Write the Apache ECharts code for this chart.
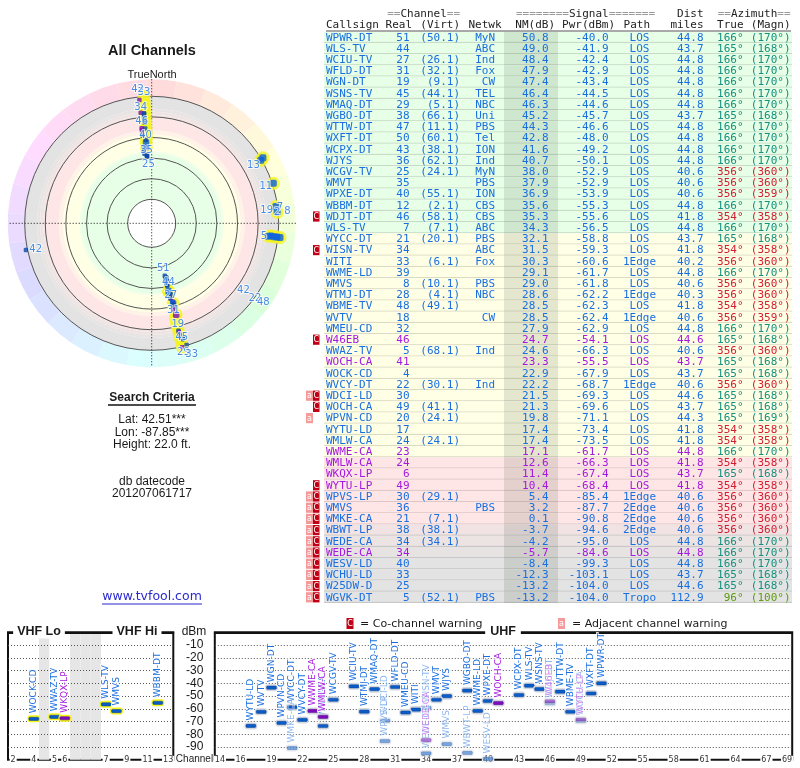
<!DOCTYPE html>
<html><head><meta charset="utf-8">
<style>html,body{margin:0;padding:0;background:#fff}#c{width:800px;height:768px}</style>
<script src="https://cdn.jsdelivr.net/npm/echarts@6/dist/echarts.min.js"></script>
</head><body><div id="c"></div>
<script>
// ---------- table data (one entry per row) ----------
const callsigns=['WPWR-DT','WLS-TV','WCIU-TV','WFLD-DT','WGN-DT','WSNS-TV','WMAQ-DT','WGBO-DT','WTTW-DT','WXFT-DT','WCPX-DT','WJYS','WCGV-TV','WMVT','WPXE-DT','WBBM-DT','WDJT-DT','WLS-TV','WYCC-DT','WISN-TV','WITI','WWME-LD','WMVS','WTMJ-DT','WBME-TV','WVTV','WMEU-CD','W46EB','WWAZ-TV','WOCH-CA','WOCK-CD','WVCY-DT','WDCI-LD','WOCH-CA','WPVN-CD','WYTU-LD','WMLW-CA','WWME-CA','WMLW-CA','WKQX-LP','WYTU-LP','WPVS-LP','WMVS','WMKE-CA','WBWT-LP','WEDE-CA','WEDE-CA','WESV-LD','WCHU-LD','W25DW-D','WGVK-DT'];
const realCh=[51,44,27,31,19,45,29,38,47,50,43,36,25,35,40,12,46,7,21,34,33,39,8,28,48,18,32,46,5,41,4,22,30,49,20,17,24,23,24,6,49,30,36,21,38,34,34,40,33,25,5];
const virtCh=['(50.1)','','(26.1)','(32.1)','(9.1)','(44.1)','(5.1)','(66.1)','(11.1)','(60.1)','(38.1)','(62.1)','(24.1)','','(55.1)','(2.1)','(58.1)','(7.1)','(20.1)','','(6.1)','','(10.1)','(4.1)','(49.1)','','','','(68.1)','','','(30.1)','','(41.1)','(24.1)','','(24.1)','','','','','(29.1)','','(7.1)','(38.1)','(34.1)','','','','','(52.1)'];
const networks=['MyN','ABC','Ind','Fox','CW','TEL','NBC','Uni','PBS','Tel','ION','Ind','MyN','PBS','ION','CBS','CBS','ABC','PBS','ABC','Fox','','PBS','NBC','','CW','','','Ind','','','Ind','','','','','','','','','','','PBS','','','','','','','','PBS'];
const nmDb=[50.8,49.0,48.4,47.9,47.4,46.4,46.3,45.2,44.3,42.8,41.6,40.7,38.0,37.9,36.9,35.6,35.3,34.3,32.1,31.5,30.3,29.1,29.0,28.6,28.5,28.5,27.9,24.7,24.6,23.3,22.9,22.2,21.5,21.3,19.8,17.4,17.4,17.1,12.6,11.4,10.4,5.4,3.2,0.1,-3.7,-4.2,-5.7,-8.4,-12.3,-13.2,-13.2];
const pwrDbm=[-40.0,-41.9,-42.4,-42.9,-43.4,-44.5,-44.6,-45.7,-46.6,-48.0,-49.2,-50.1,-52.9,-52.9,-53.9,-55.3,-55.6,-56.5,-58.8,-59.3,-60.6,-61.7,-61.8,-62.2,-62.3,-62.4,-62.9,-54.1,-66.3,-55.5,-67.9,-68.7,-69.3,-69.6,-71.1,-73.4,-73.5,-61.7,-66.3,-67.4,-68.4,-85.4,-87.7,-90.8,-94.6,-95.0,-84.6,-99.3,-103.1,-104.0,-104.0];
const paths=['LOS','LOS','LOS','LOS','LOS','LOS','LOS','LOS','LOS','LOS','LOS','LOS','LOS','LOS','LOS','LOS','LOS','LOS','LOS','LOS','1Edge','LOS','LOS','1Edge','LOS','1Edge','LOS','LOS','LOS','LOS','LOS','1Edge','LOS','LOS','LOS','LOS','LOS','LOS','LOS','LOS','LOS','1Edge','2Edge','2Edge','2Edge','LOS','LOS','LOS','LOS','LOS','Tropo'];
const miles=[44.8,43.7,44.8,44.8,44.8,44.8,44.8,43.7,44.8,44.8,44.8,44.8,40.6,40.6,40.6,44.8,41.8,44.8,43.7,41.8,40.2,44.8,40.6,40.3,41.8,40.6,44.8,44.6,40.6,43.7,43.7,40.6,44.6,43.7,44.3,41.8,41.8,44.8,41.8,43.7,41.8,40.6,40.6,40.6,40.6,44.8,44.8,44.8,43.7,44.6,112.9];
const azTrue=[166,165,166,166,166,166,166,165,166,166,166,166,356,356,356,166,354,166,165,354,356,166,356,356,354,356,166,165,356,165,165,356,165,165,165,354,354,166,354,165,354,356,356,356,356,166,166,166,165,165,96];
const azMagn=[170,168,170,170,170,170,170,168,170,170,170,170,360,360,359,170,358,170,168,358,360,170,360,360,358,359,170,168,360,168,168,360,168,168,169,358,358,170,358,168,358,360,360,360,360,170,170,170,168,168,100];
const purpleRows=[27,29,37,38,39,40,46];
const coChannelRows=[16,19,27,32,33,40,41,42,43,44,45,46,47,48,49,50];
const adjacentRows=[32,34,41,42,43,44,45,46,47,48,49,50];
// ---------- spectrum axes ----------
const vhfCats=['2','3','4','g1','5','6','g2','g3','g4','7','8','9','10','11','12','13'];
const vhfGaps=['g1','g2','g3','g4'];
const vhfTicks=['2','4','5','6','7','9','11','13'];
const uhfCats=[];for(let c=14;c<=69;c++)uhfCats.push(String(c));
const uhfTicks=['14','16','19','22','25','28','31','34','37','40','43','46','49','52','55','58','61','64','67','69'];
const extraAz=[166,166,166,166,166,166,166,356.5,356.5,356.5,356.5,356.5,356.5,356.5,356.5,356.5,60,59.5,71.8,82.3,85,96.3,96.3,96.3,96.3,258,354.3,354.3,166.2,356,356,164];
const extraNm=[8,3,-2,-7,-12,-17,-21,20,15,10,5,0,-5,-10,-15,-20,-19,-22,-21,-18.4,-19,-10.5,-16,-19,-22,-21.5,-17,-4.5,-20.5,-3,11,-19.6];
const extraCh=[9,9,9,9,9,9,9,9,9,9,9,9,9,9,9,9,13,13,11,7,8,5,5,5,5,42,34,33,33,34,46,29];
const extraPurple=[26,27,28];
// ---------- polar channel labels ----------
const labelText=['51','44','27','31','19','45','29','33','25','35','40','46','34','33','42','13','11','19','7','2','8','5','42','42','22','48'];
const labelAz=[165.5,164.2,165.3,166,165.5,165.3,166.2,163,356.8,356,356,354.4,354.6,356.6,354,60.2,71.9,83.7,83,85,85.2,96.8,257.4,126,126,125.3];
const labelNm=[58.2,43.8,30.7,15.9,2.3,-11.5,-25.8,-29.4,46,32.6,18,3.5,-9.8,-23.9,-27.8,-10.5,-13.2,-9,-22.2,-19,-28.9,-6.4,-12.1,-6.8,-20.6,-29.5];
// ---------- polar rings and bands ----------
const ringDb=[80,60,40,20,0,-20];
const bandTop=[80,35,33,17,13,1,-2,-5,-8];
const bandBottom=[35,33,17,13,1,-2,-5,-8,-20];
const bandColors=['#e6ffe6','#f2ffe6','#ffffe6','#fff2e6','#ffe6e6','#f6e4e4','#eee4e4','#e9e4e4','#e3e3e3'];
const wheelHues=[0,12,24,36,48,60,72,84,96,108,120,132,144,156,168,180,192,204,216,228,240,252,264,276,288,300,312,324,336,348];
const crossAz=[0,90];

// ---------- style ----------
const BLUE='#1a6fe0',PURPLE='#a418e0',DARK='#1a1a1a';
const MONO='"DejaVu Sans Mono",monospace',SANS='"Liberation Sans",Arial,sans-serif',DEJA='"DejaVu Sans",sans-serif';
function rowBg(nm){if(nm>=33)return'#e6ffe6';if(nm>=15)return'#ffffe6';if(nm>=0)return'#ffe6e6';if(nm>=-4)return'#f1e3e3';if(nm>=-5)return'#ece3e3';if(nm>=-7)return'#e8e3e3';return'#e3e3e3';}
function rowLine(nm){if(nm>=33)return'#c4d8c4';if(nm>=15)return'#d8d8c0';if(nm>=0)return'#dcc4c4';return'#c4c4c4';}
function azColor(a){if(a>300)return'#d41c30';if(a>150)return'#14907f';return'#5c9c0a';}

function txt(x,y,t,fill,align,size,fam,extra){return {type:'text',silent:true,style:Object.assign({x,y,text:String(t),fill,align:align||'left',verticalAlign:'middle',fontSize:size||11,fontFamily:fam||MONO},extra||{})};}

function renderRow(params,api){
  const i=params.dataIndex,p=api.coord([0,i]),cy=p[1],h=api.size([0,1])[1],X=x=>api.coord([x,i])[0];
  const top=cy-h/2,col=purpleRows.includes(i)?PURPLE:BLUE,az=azColor(azTrue[i]),nm=nmDb[i],ty=cy+0.5;
  const kids=[
    {type:'rect',silent:true,shape:{x:X(324),y:top,width:X(792)-X(324),height:h},style:{fill:rowBg(nm)}},
    {type:'line',silent:true,shape:{x1:X(324),y1:top+h-.5,x2:X(792),y2:top+h-.5},style:{stroke:rowLine(nm),lineWidth:1}},
    {type:'rect',silent:true,shape:{x:X(504),y:top,width:X(558)-X(504),height:h},style:{fill:'rgba(50,70,50,0.13)'}},
    txt(X(326),ty,callsigns[i],col),
    txt(X(409.5),ty,realCh[i],col,'right'),
    txt(X(460),ty,virtCh[i],col,'right'),
    txt(X(495),ty,networks[i],col,'right'),
    txt(X(548.5),ty,nm.toFixed(1),col,'right'),
    txt(X(608.5),ty,pwrDbm[i].toFixed(1),col,'right'),
    txt(X(639.5),ty,paths[i],col,'center'),
    txt(X(703.5),ty,miles[i].toFixed(1),col,'right'),
    txt(X(743.5),ty,azTrue[i]+'°',az,'right'),
    txt(X(790.5),ty,'('+azMagn[i]+'°)',az,'right')
  ];
  if(adjacentRows.includes(i)){
    kids.push({type:'rect',silent:true,shape:{x:X(306),y:top+.5,width:7,height:h-1},style:{fill:'#f49a9a'}});
    kids.push(txt(X(309.5),ty,'a','#fff','center',8,DEJA));
  }
  if(coChannelRows.includes(i)){
    kids.push({type:'rect',silent:true,shape:{x:X(313),y:top+.5,width:6.5,height:h-1},style:{fill:'#c00014'}});
    kids.push(txt(X(316.2),ty,'C','#fff','center',8,DEJA));
  }
  return {type:'group',children:kids};
}

function renderStation(params,api){
  const i=api.value(2),pt=api.coord([api.value(0),api.value(1)]),bw=api.size([1,0])[0];
  const purple=purpleRows.includes(i),vhf=realCh[i]<=13,pale=coChannelRows.includes(i);
  const fill=purple?'#7e0cbc':'#0a5cc8',edge=purple?'#55088a':'#063f92',w=bw-.5,op=pale?0.5:1;
  const kids=[
    {type:'rect',silent:true,shape:{x:pt[0]-w/2-1.5,y:pt[1]-3.5,width:w+3,height:7,r:3},style:{fill:vhf?'#f4f41e':'#d4d8e0',opacity:op}},
    {type:'rect',silent:true,shape:{x:pt[0]-w/2,y:pt[1]-1.6,width:w,height:3.2,r:1},style:{fill,stroke:edge,lineWidth:.5,opacity:op}},
    {type:'text',silent:true,x:pt[0],y:pt[1]-5.5,rotation:Math.PI/2,style:{x:0,y:0,text:callsigns[i],fill:purple?PURPLE:BLUE,stroke:'rgba(255,255,255,.85)',lineWidth:2,align:'left',verticalAlign:'middle',fontSize:9,fontFamily:DEJA,opacity:op}}
  ];
  return {type:'group',children:kids};
}

function stationData(test){const d=[];realCh.forEach((c,i)=>{if(test(c)&&pwrDbm[i]>=-100)d.push([String(c),pwrDbm[i],i]);});return d;}
function polarR(api,cs,nm){const q=api.coord([nm,0]);return Math.hypot(q[0]-cs.cx,q[1]-cs.cy);}

const polarHalo=[],polarDots=[];
azTrue.forEach((a,i)=>{const it={value:[nmDb[i],a],itemStyle:{color:purpleRows.includes(i)?'#7a10c0':(realCh[i]<=13?'#0a60e0':'#0d48a8')},symbolSize:realCh[i]<=13?6.5:4.5};polarDots.push(it);if(realCh[i]<=13)polarHalo.push([nmDb[i],a]);});
extraAz.forEach((a,i)=>{const v=extraCh[i]<=13;if(!v||extraPurple.includes(i))polarDots.push({value:[extraNm[i],a],itemStyle:{color:extraPurple.includes(i)?'#7a10c0':'#0d48a8'},symbolSize:4.5});if(v)polarHalo.push([extraNm[i],a]);});
// the far right VHF clusters are visible as blue dots inside their halos
extraAz.forEach((a,i)=>{if(a<100&&extraCh[i]<=13)polarDots.push({value:[extraNm[i],a],itemStyle:{color:'#0a60e0'},symbolSize:7});});

const polarLabels=labelText.map((t,i)=>({name:t,value:[labelNm[i],labelAz[i]]}));

const gt=(x,y,t,o)=>({type:'text',silent:true,x,y,z:30,style:Object.assign({text:t,fill:DARK,align:'center',verticalAlign:'middle',fontSize:12,fontFamily:SANS},o||{})});
const hdr=(x,y,t,align,rich)=>({type:'text',silent:true,x,y,z:30,style:Object.assign({text:t,fill:'#222',align:align||'right',verticalAlign:'middle',fontSize:11,fontFamily:MONO},rich||{})});
const eqRich={rich:{e:{fill:'#9a9a9a',fontSize:11,fontFamily:MONO},t:{fill:'#222',fontSize:11,fontFamily:MONO}}};

const graphics=[
  gt(152,51,'All Channels',{fontWeight:'bold',fontSize:14.5}),
  gt(152,75,'TrueNorth',{fontSize:11}),
  gt(152,398,'Search Criteria',{fontWeight:'bold',fontSize:12}),
  {type:'line',silent:true,z:30,shape:{x1:108,y1:405,x2:196,y2:405},style:{stroke:'#111',lineWidth:1.5}},
  gt(152,420,'Lat: 42.51***'),gt(152,433,'Lon: -87.85***'),gt(152,445,'Height: 22.0 ft.'),
  gt(152,482,'db datecode'),gt(152,494,'201207061717'),
  gt(152,597,'www.tvfool.com',{fontSize:12.5,fill:'#2a2ad0',fontFamily:DEJA}),
  {type:'line',silent:true,z:30,shape:{x1:102,y1:604,x2:202,y2:604},style:{stroke:'#2a2ad0',lineWidth:1}},
  hdr(460,14,'{e|==}{t|Channel}{e|==}','right',eqRich),
  hdr(655,14,'{e|========}{t|Signal}{e|=======}','right',eqRich),
  hdr(703.5,14,'Dist'),
  hdr(790.5,14,'{e|==}{t|Azimuth}{e|==}','right',eqRich),
  hdr(326,25,'Callsign','left'),hdr(412,25,'Real'),hdr(460,25,'(Virt)'),hdr(501.5,25,'Netwk'),
  hdr(555,25,'NM(dB)'),hdr(615,25,'Pwr(dBm)'),hdr(650,25,'Path'),hdr(703.5,25,'miles'),hdr(743.5,25,'True'),hdr(790.5,25,'(Magn)'),
  {type:'line',silent:true,z:30,shape:{x1:326,y1:31,x2:791,y2:31},style:{stroke:'#555',lineWidth:1}},
  {type:'rect',silent:true,z:30,shape:{x:346.5,y:618,width:7,height:11},style:{fill:'#c00014'}},
  gt(350,623.5,'C',{fill:'#fff',fontSize:8,fontFamily:DEJA}),
  gt(360,624,'= Co-channel warning',{align:'left',fontSize:11,fontFamily:DEJA}),
  {type:'rect',silent:true,z:30,shape:{x:558,y:618,width:7,height:11},style:{fill:'#f49a9a'}},
  gt(561.5,623.5,'a',{fill:'#fff',fontSize:8,fontFamily:DEJA}),
  gt(572,624,'= Adjacent channel warning',{align:'left',fontSize:11,fontFamily:DEJA}),
  gt(39,632,'VHF Lo',{fontWeight:'bold',fontSize:12.5,backgroundColor:'#fff',padding:[0,4]}),
  gt(137,632,'VHF Hi',{fontWeight:'bold',fontSize:12.5,backgroundColor:'#fff',padding:[0,4]}),
  gt(503,632,'UHF',{fontWeight:'bold',fontSize:12.5,backgroundColor:'#fff',padding:[0,5]}),
  gt(194,632,'dBm',{fontSize:12}),
  gt(194.5,759,'Channel',{fontSize:10})
];

const freqX=(cats,ticks)=>({type:'category',data:cats,position:'bottom',axisTick:{show:false},axisLine:{show:true,lineStyle:{color:'#111',width:2}},
  axisLabel:{show:true,interval:(i,v)=>ticks.includes(v),margin:-4,fontSize:8,color:'#333',fontFamily:DEJA,backgroundColor:'#fff',padding:[0,1],hideOverlap:false},splitLine:{show:false},z:6});
const dbY=(labels)=>({type:'value',min:-100,max:0,interval:10,position:'right',z:5,axisLine:{show:false},axisTick:{show:false},
  splitLine:{show:true,lineStyle:{color:'#555',type:[1,2],width:1}},
  axisLabel:{show:labels,align:'right',margin:30,fontSize:12,color:DARK,fontFamily:SANS,formatter:v=>(v===0||v===-100)?'':String(v)}});

const option={
  animation:false,backgroundColor:'#fff',
  polar:{center:[151.7,223.3],radius:[24,147.6]},
  angleAxis:{type:'value',min:0,max:360,interval:90,startAngle:90,clockwise:true,axisLine:{show:false},axisTick:{show:false},axisLabel:{show:false},splitLine:{show:false}},
  radiusAxis:{type:'value',min:-40,max:80,interval:20,inverse:true,axisLine:{show:false},axisTick:{show:false},axisLabel:{show:false},splitLine:{show:false}},
  grid:[
    {id:'table',left:0,width:800,top:31.7,height:571.2,show:false},
    {id:'vhf',left:8,width:165.3,top:632.3,height:127.5,show:true,borderColor:'#111',borderWidth:2,backgroundColor:'transparent'},
    {id:'uhf',left:214.8,width:577.4,top:632.3,height:127.5,show:true,borderColor:'#111',borderWidth:2,backgroundColor:'transparent'}
  ],
  xAxis:[
    {gridIndex:0,type:'value',min:0,max:800,show:false},
    Object.assign(freqX(vhfCats,vhfTicks),{gridIndex:1}),
    Object.assign(freqX(uhfCats,uhfTicks),{gridIndex:2})
  ],
  yAxis:[
    {gridIndex:0,type:'category',inverse:true,data:callsigns.map((c,i)=>String(i)),show:false},
    Object.assign(dbY(true),{gridIndex:1}),
    Object.assign(dbY(false),{gridIndex:2})
  ],
  graphic:{elements:graphics},
  series:[
    // table
    {type:'custom',xAxisIndex:0,yAxisIndex:0,z:2,silent:true,data:callsigns.map((c,i)=>[0,i]),encode:{x:0,y:1},renderItem:renderRow},
    // VHF gap columns
    {type:'bar',xAxisIndex:1,yAxisIndex:1,barWidth:'100%',silent:true,z:1,itemStyle:{color:'#e6e6e6'},data:vhfCats.map(c=>vhfGaps.includes(c)?-100:null)},
    // stations
    {type:'custom',xAxisIndex:1,yAxisIndex:1,z:10,silent:true,clip:false,data:stationData(c=>c<=13),encode:{x:0,y:1},renderItem:renderStation},
    {type:'custom',xAxisIndex:2,yAxisIndex:2,z:10,silent:true,clip:false,data:stationData(c=>c>13),encode:{x:0,y:1},renderItem:renderStation},
    // polar: colour wheel
    {type:'custom',coordinateSystem:'polar',z:1,silent:true,data:wheelHues.map(h=>[-36.5,h]),encode:{radius:0,angle:1},renderItem:(p,api)=>{
      const cs=p.coordSys,h=api.value(1),R=polarR(api,cs,-36.5),r0=polarR(api,cs,-20),s=(h-2-90)*Math.PI/180,e=(h+10-90)*Math.PI/180;
      return {type:'sector',silent:true,shape:{cx:cs.cx,cy:cs.cy,r0,r:R,startAngle:s,endAngle:e,clockwise:true},style:{fill:'hsl('+h+',100%,93%)'}};}},
    // polar: signal bands
    {type:'custom',coordinateSystem:'polar',z:1,silent:true,data:bandTop.map((t,i)=>[bandBottom[i],0,t,i]),encode:{radius:0,angle:1},renderItem:(p,api)=>{
      const cs=p.coordSys,R=polarR(api,cs,api.value(0)),r0=polarR(api,cs,api.value(2));
      return {type:'ring',silent:true,shape:{cx:cs.cx,cy:cs.cy,r:R,r0},style:{fill:bandColors[api.value(3)]}};}},
    // polar: range rings
    {type:'custom',coordinateSystem:'polar',z:2,silent:true,data:ringDb.map(d=>[d,0]),encode:{radius:0,angle:1},renderItem:(p,api)=>{
      const cs=p.coordSys;return {type:'circle',silent:true,shape:{cx:cs.cx,cy:cs.cy,r:polarR(api,cs,api.value(0))},style:{fill:null,stroke:'#555',lineWidth:1}};}},
    // polar: cross hair
    {type:'custom',coordinateSystem:'polar',z:3,silent:true,data:crossAz.map(a=>[-36.5,a]),encode:{radius:0,angle:1},renderItem:(p,api)=>{
      const a=api.value(1),q=api.coord([-36.5,a]),w=api.coord([-36.5,a+180]);
      return {type:'line',silent:true,shape:{x1:q[0],y1:q[1],x2:w[0],y2:w[1]},style:{stroke:'#111',lineWidth:1,lineDash:[1,2]}};}},
    {type:'scatter',coordinateSystem:'polar',z:4,silent:true,symbol:'circle',symbolSize:13,itemStyle:{color:'#f4f41e'},data:polarHalo},
    {type:'scatter',coordinateSystem:'polar',z:5,silent:true,symbol:'roundRect',data:polarDots},
    {type:'scatter',coordinateSystem:'polar',z:6,silent:true,symbolSize:1,itemStyle:{color:'rgba(0,0,0,0)'},data:polarLabels,
      label:{show:true,position:'inside',formatter:'{b}',fontSize:10,fontFamily:DEJA,color:BLUE,textBorderColor:'rgba(255,255,255,.9)',textBorderWidth:2}}
  ]
};
const chart=echarts.init(document.getElementById('c'),null,{renderer:'canvas',width:800,height:768});
chart.setOption(option);
</script></body></html>
